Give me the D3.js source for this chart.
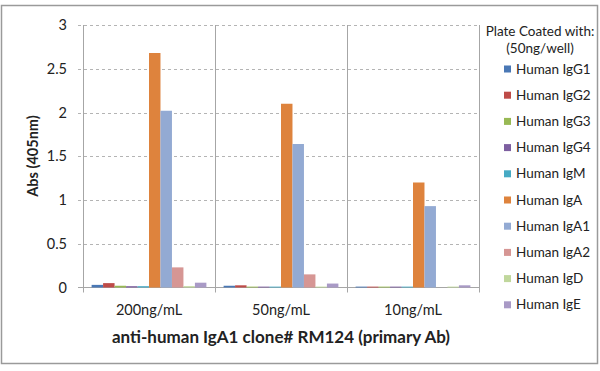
<!DOCTYPE html>
<html><head><meta charset="utf-8">
<script src="https://cdn.jsdelivr.net/npm/d3@7"></script>
<style>body{margin:0;background:#fff}svg{display:block}text{font-family:Lato,"Open Sans",sans-serif;fill:#222}</style>
</head><body><svg id="c" width="600" height="371"></svg>
<script>
const categories = ["200ng/mL","50ng/mL","10ng/mL"];
const seriesNames = ["Human IgG1","Human IgG2","Human IgG3","Human IgG4","Human IgM","Human IgA","Human IgA1","Human IgA2","Human IgD","Human IgE"];
const seriesColors = ["#4A78B5","#BE4B48","#98B954","#7D5FA0","#46AAC4","#DE833D","#93AAD3","#D69694","#C0D79C","#A99AC6"];
const igG1 = [0.03,0.02,0.01];
const igG2 = [0.05,0.025,0.01];
const igG3 = [0.02,0.01,0.01];
const igG4 = [0.015,0.01,0.01];
const igM  = [0.015,0.01,0.01];
const igA  = [2.68,2.10,1.20];
const igA1 = [2.02,1.64,0.93];
const igA2 = [0.23,0.15,0.00];
const igD  = [0.015,0.01,0.01];
const igE  = [0.055,0.045,0.025];
const yTicks = [0,0.5,1,1.5,2,2.5,3];
const yTitle = "Abs (405nm)";
const xTitle = "anti-human IgA1 clone# RM124 (primary Ab)";
const legendTitle = ["Plate Coated with:","(50ng/well)"];

const values = [igG1,igG2,igG3,igG4,igM,igA,igA1,igA2,igD,igE];
const svg = d3.select("#c");
svg.append("rect").attr("x",1.5).attr("y",5.5).attr("width",596).attr("height",358)
  .attr("fill","#fff").attr("stroke","#9a9a9a").attr("stroke-width",1.5);

const L=83, R=479, T=25, B=287.5;
const y = d3.scaleLinear().domain([0,3]).range([B,T]);
const x0 = d3.scaleBand().domain(categories).range([L,R]).padding(0);
const x1 = d3.scaleBand().domain(seriesNames).range([0,x0.bandwidth()]).paddingInner(0).paddingOuter(0.75);
const color = d3.scaleOrdinal().domain(seriesNames).range(seriesColors);

// gridlines
svg.append("g").selectAll("line").data(yTicks.filter(d=>d>0)).join("line")
  .attr("x1",L-5).attr("x2",R).attr("y1",d=>Math.round(y(d))+0.5).attr("y2",d=>Math.round(y(d))+0.5)
  .attr("stroke","#b4b4b4").attr("stroke-dasharray","3,3");
// y tick labels
const yAxis = d3.axisLeft(y).tickValues(yTicks).tickFormat(d3.format("")).tickSize(0).tickPadding(0);
const ya = svg.append("g").attr("transform",`translate(${L-16},0)`).call(yAxis);
ya.select(".domain").remove();
ya.selectAll("text").style("font-size","14.5px").style("font-family","Lato").attr("fill","#222");

// category dividers
svg.append("g").selectAll("line").data([L,...categories.map(c=>x0(c)+x0.bandwidth())]).join("line")
  .attr("x1",d=>Math.round(d)+0.5).attr("x2",d=>Math.round(d)+0.5).attr("y1",T).attr("y2",B+5)
  .attr("stroke","#a6a6a6");
svg.append("line").attr("x1",L-5).attr("x2",R).attr("y1",B).attr("y2",B).attr("stroke","#a6a6a6");

// bars
const groups = svg.append("g").selectAll("g").data(categories).join("g")
  .attr("transform",c=>`translate(${x0(c)},0)`);
groups.selectAll("rect").data((c,ci)=>seriesNames.map((s,si)=>({s,v:values[si][ci]}))).join("rect")
  .attr("x",d=>x1(d.s)).attr("width",x1.bandwidth())
  .attr("y",d=>y(d.v)).attr("height",d=>B-y(d.v)).attr("fill",d=>color(d.s));

// x labels
const xAxis = d3.axisBottom(x0).tickSize(0).tickPadding(0);
const xa = svg.append("g").attr("transform",`translate(0,${B+17})`).call(xAxis);
xa.select(".domain").remove();
xa.selectAll("text").style("font-size","14.5px").style("font-family","Lato").attr("fill","#222");

svg.append("text").attr("x",281).attr("y",343).attr("text-anchor","middle")
  .style("font-size","17px").style("font-weight","bold").text(xTitle);
svg.append("text").attr("transform","translate(38,156) rotate(-90)").attr("text-anchor","middle")
  .style("font-size","14.5px").style("font-weight","bold").text(yTitle);

// legend
const lg = svg.append("g");
lg.selectAll("text.t").data(legendTitle).join("text").attr("class","t")
  .attr("x",540).attr("y",(d,i)=>36+i*17).attr("text-anchor","middle").style("font-size","13.5px").text(d=>d);
const items = lg.selectAll("g.i").data(seriesNames).join("g").attr("class","i")
  .attr("transform",(d,i)=>`translate(504,${69+i*26.2})`);
items.append("rect").attr("x",0).attr("y",-3.5).attr("width",7).attr("height",7).attr("fill",d=>color(d));
items.append("text").attr("x",12).attr("y",4.5).style("font-size","13.5px").text(d=>d);
</script></body></html>
